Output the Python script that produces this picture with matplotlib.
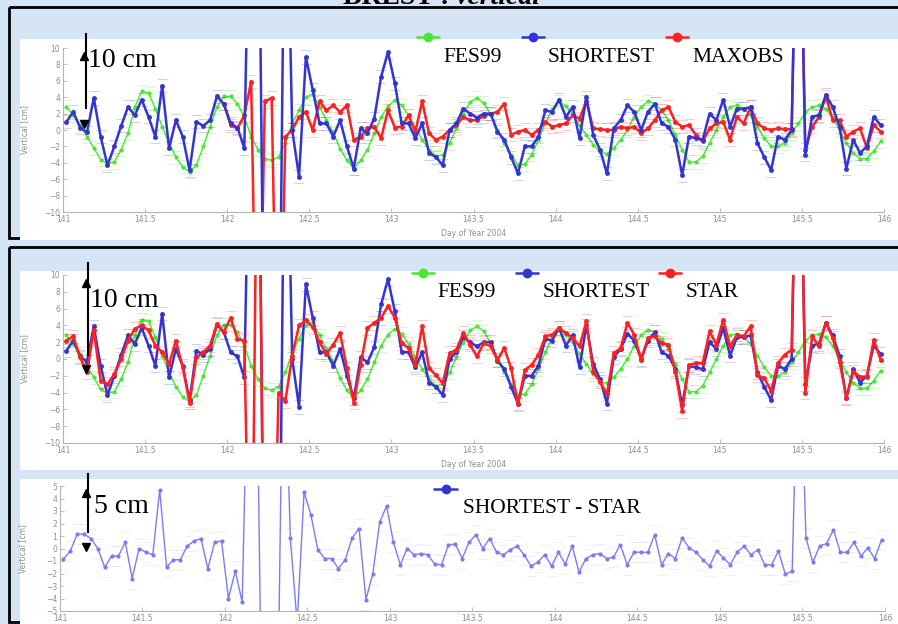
import numpy as np
import matplotlib.pyplot as plt
from matplotlib.patches import Rectangle
from matplotlib.ticker import FormatStrFormatter

W, H = 898, 624
nan = np.nan

# hourly samples, day of year 2004 (141.0 -> 146.0)
t = 141 + (np.arange(120) + 0.5) / 24.0

# sea level, vertical [cm]
fes99 = [2.8, 1.8, 0.6, -0.8, -2.2, -3.6, -4.1, -3.9, -2.4, -0.4,
         2.8, 4.7, 4.5, 2.6, 0.4, -1.6, -3.3, -4.5, -5.1, -4.3,
         -2.0, 0.4, 2.8, 4.1, 4.1, 3.2, 1.6, -0.8, -2.4, -3.5,
         -3.7, -3.3, -1.6, 0.8, 2.4, 4.0, 4.4, 2.8, 1.2, -0.3,
         -2.3, -3.7, -4.7, -3.7, -2.4, -0.4, 1.6, 2.9, 3.6, 3.0,
         1.8, 0.2, -1.2, -2.4, -3.2, -3.0, -1.6, 0.2, 2.0, 3.4,
         3.9, 3.3, 1.9, 0.0, -1.6, -3.0, -4.3, -4.2, -3.0, -1.2,
         0.8, 2.6, 3.5, 2.9, 2.0, 0.6, -0.6, -1.8, -2.7, -2.9,
         -2.2, -1.2, 0.0, 1.6, 2.8, 3.5, 3.2, 2.4, 1.2, -0.6,
         -2.4, -3.9, -3.9, -3.2, -1.6, 0.0, 1.6, 2.8, 3.0, 2.6,
         1.8, 0.4, -1.0, -2.0, -2.0, -1.6, -0.4, 0.8, 2.2, 2.8,
         3.0, 2.6, 1.6, 0.0, -1.6, -2.8, -3.5, -3.5, -2.6, -1.4]

shortest = [1.0, 2.2, 0.3, -0.3, 3.9, -0.8, -4.3, -2.0, 0.5, 2.8,
            1.8, 3.7, 1.6, -0.8, 5.4, -2.2, 1.2, -0.8, -4.9, 1.0,
            0.5, 1.2, 4.1, 3.2, 0.8, 0.3, -2.2, 40, 40, -40,
            -40, -40, 40, 0.0, -5.7, 8.9, 4.9, 0.8, 0.8, -0.8,
            1.2, -2.0, -4.7, 0.2, -0.4, 1.4, 6.5, 9.5, 5.7, 0.8,
            0.8, -1.0, 0.8, -2.8, -3.3, -4.3, 0.0, 0.8, 2.6, 2.0,
            1.5, 2.0, 2.0, -0.2, -1.2, -3.3, -5.3, -2.0, -2.0, -0.8,
            2.4, 2.2, 3.7, 1.6, 2.8, -1.0, 4.0, -0.6, -2.4, -5.3,
            0.2, 1.2, 3.0, 2.2, 0.0, 2.2, 3.2, 0.8, 0.4, -1.2,
            -5.5, -0.8, -1.0, -1.2, 2.0, 1.2, 3.7, 0.4, 2.6, 2.6,
            2.8, -1.6, -3.3, -4.9, -0.8, -1.2, 0.0, 40, -3.0, 1.6,
            1.8, 4.3, 2.8, 0.4, -4.7, -1.2, -2.8, -2.0, 1.6, 0.6]

maxobs = [nan] * 23 + [
            3.2, 0.6, 0.2, 1.8, 5.9, -40, 3.5,
            3.9, -40, -0.8, 0.0, 1.6, 2.2, 0.0, 3.5, 2.4, 3.0,
            2.2, 3.0, -1.2, -0.8, 0.2, 0.4, -1.0, 2.4, 0.3, 0.4,
            1.8, -0.2, 3.5, -0.4, -1.2, -0.8, 0.0, 0.6, 1.6, 1.2,
            1.2, 1.7, 2.0, 2.2, 3.2, -0.6, -0.2, 0.0, -0.6, 0.0,
            1.0, 0.4, 0.6, 0.8, 1.8, 1.4, 3.5, 0.2, 0.1, 0.0,
            0.0, 0.4, 0.2, 0.4, -0.4, 0.2, 1.2, 2.4, 2.8, 1.0,
            0.4, 0.6, -0.6, -1.4, 0.2, 0.8, 1.0, -1.2, 1.6, 0.8,
            2.8, 0.8, 0.2, 0.0, 0.2, 0.1, 0.1, 40, -2.4, 0.4,
            1.6, 4.1, 1.2, 1.2, -0.8, -0.2, 0.2, -2.2, 0.6, -0.2]

star = [2.2, 2.7, 0.2, -1.6, 3.4, -2.6, -3.0, -1.8, 0.0, 2.2,
        3.6, 4.0, 3.4, 1.6, 0.8, -0.6, 2.2, -1.0, -5.2, 0.2,
        0.8, 1.6, 4.2, 3.2, 4.9, 2.4, 2.2, -40, 40, -40,
        -40, -4.0, -5.0, 0.4, 4.0, 4.6, 3.8, 2.0, 0.6, 1.7,
        3.1, -1.1, -5.2, -0.7, 3.7, 4.3, 4.9, 6.3, 4.9, 1.9,
        1.3, -0.7, 3.9, -1.1, -1.9, -2.9, 0.7, 1.1, 3.1, 1.7,
        0.3, 1.9, 1.5, -0.1, 1.3, -1.1, -5.4, -1.3, -0.7, 0.5,
        2.7, 2.9, 3.7, 3.1, 2.5, 1.5, 4.5, -1.5, -2.7, -4.2,
        0.7, 1.3, 4.3, 2.9, -0.1, 2.5, 2.7, 1.9, 1.7, -1.5,
        -6.2, -0.7, -0.5, -0.5, 3.3, 1.7, 4.7, 1.5, 2.9, 2.7,
        3.9, -1.9, -2.3, -3.8, -0.5, 0.5, 1.1, 40, -4.0, 2.7,
        1.5, 4.3, 2.5, -0.3, -4.6, -1.5, -2.1, -2.1, 2.3, -0.1]

short_minus_star = [-0.85, -0.2, 1.15, 1.15, 0.8, 0.0, -1.5, -0.6, -0.6, 0.5,
                    -2.4, 0.0, -0.3, -0.5, 4.7, -1.5, -0.9, -0.9, 0.2, 0.6,
                    0.8, -1.6, 0.5, 0.6, -4.0, -1.8, -4.3, 20, 20, -20,
                    -20, -20, 20, 0.85, -6.0, 4.5, 2.7, -0.1, -0.8, -0.8,
                    -1.6, -0.9, 0.85, 1.6, -4.1, -2.0, 2.1, 3.4, 0.5, -1.3,
                    0.0, -0.5, -0.4, -0.5, -1.25, -1.3, 0.3, 0.35, -0.8, 0.5,
                    1.1, 0.0, 0.8, -0.3, -0.5, -0.1, 0.2, -0.5, -1.4, -1.1,
                    -0.5, -1.4, -0.3, -1.25, 0.2, -1.9, -0.8, -0.5, -0.4, -0.8,
                    -0.7, 0.3, -1.3, -0.3, -0.3, -0.3, 1.1, -1.3, -0.4, -0.8,
                    0.85, 0.05, -0.3, -0.9, -1.4, -0.2, -0.75, -1.3, -0.3, 0.2,
                    -0.5, -0.1, -1.3, -1.3, -0.2, -2.05, -1.8, 20, 0.85, -1.1,
                    0.2, 0.4, 1.5, -0.3, -0.3, 0.5, -0.6, 0.05, -0.8, 0.7]

xticks = np.arange(141, 146.01, 0.5)

GREEN = '#46e830'
BLUE = '#3434d2'
RED = '#ff2020'
LIGHTBLUE = '#7c7cf2'
SERIF = 'Liberation Serif'

fig = plt.figure(figsize=(W / 100, H / 100), dpi=100, facecolor='#d5e5f5')

# background: frames and white panels, in pixel coords
bg = fig.add_axes([0, 0, 1, 1], zorder=0)
bg.set_xlim(0, W)
bg.set_ylim(H, 0)
bg.axis('off')
bg.add_patch(Rectangle((9, 7), 900, 231, fill=False, ec='black', lw=2))
bg.add_patch(Rectangle((9, 247), 900, 375, fill=False, ec='black', lw=2))
bg.add_patch(Rectangle((20, 39), 890, 201, fc='white', ec='none'))
bg.add_patch(Rectangle((20, 271), 890, 199, fc='white', ec='none'))
bg.add_patch(Rectangle((20, 479), 890, 150, fc='white', ec='none'))


def make_axes(left, top, right, bottom):
    ax = fig.add_axes([left / W, 1 - bottom / H, (right - left) / W, (bottom - top) / H],
                      zorder=1)
    ax.patch.set_visible(False)
    for s in ['top', 'right']:
        ax.spines[s].set_visible(False)
    for s in ['left', 'bottom']:
        ax.spines[s].set_color('#b4b4b4')
        ax.spines[s].set_linewidth(0.8)
    ax.tick_params(direction='in', length=3, width=0.6, color='#b4b4b4',
                   labelsize=5.5, labelcolor='#8e8e8e', pad=2)
    ax.set_xlim(141, 146)
    ax.set_xticks(xticks)
    ax.xaxis.set_major_formatter(FormatStrFormatter('%g'))
    ax.set_xlabel('Day of Year 2004', fontsize=5.5, color='#8e8e8e')
    ax.set_ylabel('Vertical [cm]', fontsize=5.5, color='#8e8e8e')
    return ax


def series(ax, y, color, lw, ms, cap_alpha=0.28):
    ax.errorbar(t, y, yerr=0.8, fmt='none', ecolor=color, elinewidth=0,
                capsize=3.5, capthick=0.6, alpha=cap_alpha)
    ax.plot(t, y, '-o', color=color, lw=lw, ms=ms)


# panel 1: FES99 / SHORTEST / MAXOBS
ax1 = make_axes(63, 48, 884, 212)
series(ax1, fes99, GREEN, 1.0, 2)
series(ax1, maxobs, RED, 1.8, 2.5)
series(ax1, shortest, BLUE, 1.8, 2.5)
ax1.set_ylim(-10, 10)
ax1.set_yticks(range(-10, 11, 2))
ax1.xaxis.set_label_coords(0.5, -17 / 164)
ax1.yaxis.set_label_coords(-34 / 821, 0.5)

# panel 2: FES99 / SHORTEST / STAR
ax2 = make_axes(63, 275, 884, 443)
series(ax2, fes99, GREEN, 1.0, 2)
series(ax2, shortest, BLUE, 1.8, 2.5)
series(ax2, star, RED, 1.8, 2.5)
ax2.set_ylim(-10, 10)
ax2.set_yticks(range(-10, 11, 2))
ax2.xaxis.set_label_coords(0.5, -17 / 168)
ax2.yaxis.set_label_coords(-34 / 821, 0.5)

# panel 3: SHORTEST - STAR
ax3 = make_axes(60, 486, 885, 611)
series(ax3, short_minus_star, LIGHTBLUE, 1.0, 2, cap_alpha=0.15)
ax3.set_ylim(-5, 5)
ax3.set_yticks(range(-5, 6))
ax3.xaxis.set_label_coords(0.5, -15 / 125)
ax3.yaxis.set_label_coords(-33 / 825, 0.5)

# overlay: legends, scale arrows, title (pixel coords)
ov = fig.add_axes([0, 0, 1, 1], zorder=3)
ov.set_xlim(0, W)
ov.set_ylim(H, 0)
ov.axis('off')


def legend_item(x, y, color, label, tx, ty):
    ov.plot([x - 12, x + 12], [y, y], color=color, lw=1.8, solid_capstyle='butt')
    ov.plot(x, y, 'o', color=color, ms=6)
    ov.text(tx, ty, label, family=SERIF, fontsize=15.5, va='baseline', ha='left')


def scale_arrow(x, y0, y1, up, down, label, tx, ty):
    ov.plot([x, x], [y0, y1], color='black', lw=1.5)
    ov.plot(x - 2, up, marker='^', color='black', ms=6)
    ov.plot(x - 2, down, marker='v', color='black', ms=6)
    ov.text(tx, ty, label, family=SERIF, fontsize=20, va='baseline', ha='left')


legend_item(428, 37, GREEN, 'FES99', 443, 62)
legend_item(533, 37, BLUE, 'SHORTEST', 548, 62)
legend_item(677, 37, RED, 'MAXOBS', 692, 62)

legend_item(423, 273, GREEN, 'FES99', 437, 297)
legend_item(527, 273, BLUE, 'SHORTEST', 543, 297)
legend_item(670, 273, RED, 'STAR', 686, 297)

ov.plot([433, 458], [489, 489], color=BLUE, lw=1.8, solid_capstyle='butt')
ov.plot(446, 489, 'o', color=BLUE, ms=6)
ov.text(463, 513, 'SHORTEST - STAR', family=SERIF, fontsize=15.5, va='baseline')

scale_arrow(86, 34, 108, 56, 124, '10 cm', 88, 67)
scale_arrow(88, 263, 355, 283, 369, '10 cm', 90, 307)
scale_arrow(88, 474, 532, 493, 547, '5 cm', 94, 513)

ov.text(343, 4, 'BREST :', family=SERIF, fontsize=20, fontweight='bold', va='baseline')
ov.text(452, 4, 'Vertical', family=SERIF, fontsize=20, fontweight='bold',
        style='italic', va='baseline')

fig.savefig('out.png', dpi=100, facecolor=fig.get_facecolor())
